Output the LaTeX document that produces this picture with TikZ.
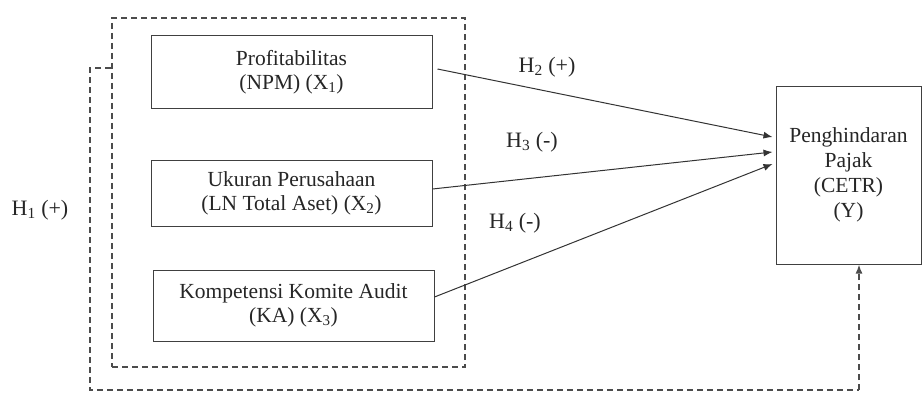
\documentclass[tikz,border=0pt]{standalone}
\usepackage{fontspec}
\setmainfont{Liberation Serif}
\usetikzlibrary{arrows.meta}
\begin{document}
\begin{tikzpicture}[x=1pt,y=1pt,
  every node/.style={font=\fontsize{21.5}{24}\selectfont, text=black!85},
  box/.style={draw=black!75, line width=1pt, align=center, inner sep=0pt},
  grpbox/.style={draw=black!70, line width=1.6pt, dash pattern=on 6pt off 4pt, inner sep=0pt},
  dashline/.style={draw=black!70, line width=1.6pt, dash pattern=on 6pt off 4pt},
  arr/.style={draw=black!80, line width=1pt, -{Latex[length=9pt,width=7pt]}},
  lbl/.style={inner sep=0pt, font=\fontsize{22}{24}\selectfont}]
\useasboundingbox (0,0) rectangle (922,392);
\fill[white] (0,0) rectangle (922,392);
\node[grpbox, minimum width=353pt, minimum height=349pt] (grp) at (288.5,199.5) {};
\node[box, minimum width=281pt, minimum height=72pt] (b1) at (291.5,320) {Profitabilitas\\(NPM) (X\textsubscript{1})};
\node[box, minimum width=281pt, minimum height=66pt] (b2) at (291.5,199) {Ukuran Perusahaan\\(LN Total Aset) (X\textsubscript{2})};
\node[box, minimum width=281pt, minimum height=71pt] (b3) at (293.5,86.5) {Kompetensi Komite Audit\\(KA) (X\textsubscript{3})};
\node[box, minimum width=145pt, minimum height=178pt, font=\fontsize{21.5}{25}\selectfont] (Y) at (848.5,217) {Penghindaran\\Pajak\\(CETR)\\(Y)};
\draw[arr] ([xshift=5pt,yshift=3pt]b1.east) -- ([xshift=-3pt,yshift=38pt]Y.west);
\draw[arr] ([yshift=4pt]b2.east) -- ([xshift=-3pt,yshift=23pt]Y.west);
\draw[arr] ([yshift=8.5pt]b3.east) -- ([xshift=-3pt,yshift=11pt]Y.west);
\coordinate (bot) at (859,2);
\draw[dashline] ([yshift=124.5pt]grp.west) -- ++(-21,0) |- (bot);
\draw[dashline, -{Latex[length=9pt,width=7pt]}] (bot) -- ([xshift=10.5pt]Y.south);
\node[lbl] (h1) at (40,182) {H\textsubscript{1} (+)};
\node[lbl] (h2) at (547,325) {H\textsubscript{2} (+)};
\node[lbl] (h3) at (532,250) {H\textsubscript{3} (-)};
\node[lbl] (h4) at (515,169) {H\textsubscript{4} (-)};
\end{tikzpicture}
\end{document}
